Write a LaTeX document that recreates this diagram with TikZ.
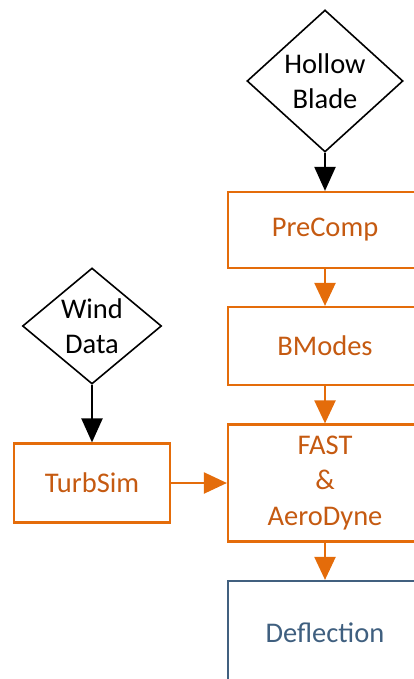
\documentclass[tikz,border=0pt]{standalone}
\usepackage{fontspec}
\setmainfont{Carlito}
\usetikzlibrary{shapes.geometric,arrows.meta}
\definecolor{orline}{HTML}{E46C0A}
\definecolor{ortext}{HTML}{C55A11}
\definecolor{blline}{HTML}{41607F}
\definecolor{bltext}{HTML}{3F5F7F}
\tikzset{
  txt/.style={font=\fontsize{28.5}{35.5}\selectfont, align=center},
  decision/.style={diamond, draw=black, line width=1.6pt, inner sep=0pt},
  procbox/.style={rectangle, draw=orline, line width=2.2pt, text=ortext, txt, inner sep=0pt},
  outbox/.style={rectangle, draw=blline, line width=2.2pt, text=bltext, txt, inner sep=0pt},
  blackarrow/.style={draw=black, line width=2.2pt, -{Triangle[width=21pt,length=24pt]}},
  orarrow/.style={draw=orline, line width=2.2pt, -{Triangle[width=21pt,length=23pt]}}
}
\begin{document}
\begin{tikzpicture}[x=1pt,y=-1pt]
\useasboundingbox (0,0) rectangle (414,679);
\node[decision, minimum width=156pt, minimum height=142pt,
  label={[txt]center:Hollow\\Blade}] (hb) at (325,81) {};
\node[decision, minimum width=139pt, minimum height=116pt,
  label={[txt]center:Wind\\Data}] (wd) at (92,326) {};
\node[procbox, minimum width=194pt, minimum height=76pt] (pre) at (325,230) {PreComp};
\node[procbox, minimum width=194pt, minimum height=78pt] (bm) at (325,346) {BModes};
\node[procbox, minimum width=194pt, minimum height=117pt] (fast) at (325,483) {FAST\\\&\\AeroDyne};
\node[procbox, minimum width=156pt, minimum height=79pt] (ts) at (92,483) {TurbSim};
\node[outbox, minimum width=194pt, minimum height=103pt] (def) at (325,632.5) {Deflection};
\draw[blackarrow] (hb.south) -- (pre.north);
\draw[blackarrow] (wd.south) -- (ts.north);
\draw[orarrow] (pre.south) -- (bm.north);
\draw[orarrow] (bm.south) -- (fast.north);
\draw[orarrow] (fast.south) -- (def.north);
\draw[orarrow] (ts.east) -- (fast.west);
\end{tikzpicture}
\end{document}
